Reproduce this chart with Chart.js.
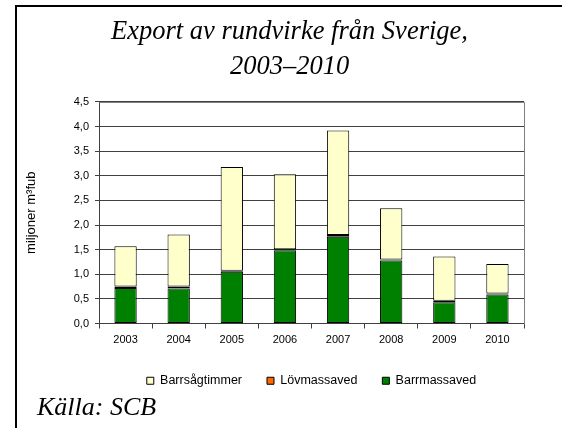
<!DOCTYPE html>
<html>
<head>
<meta charset="utf-8">
<script src="https://cdn.jsdelivr.net/npm/chart.js@4/dist/chart.umd.min.js"></script>
<style>
  html, body { margin: 0; padding: 0; background: #fff; }
  #frame {
    position: absolute; left: 15px; top: 5px; width: 545px; height: 421px;
    border-left: 2px solid #000; border-top: 2px solid #000;
  }
  #wrap { position: absolute; left: 0; top: 0; width: 545px; height: 421px; }
</style>
</head>
<body>
<div id="frame">
  <div id="wrap"><canvas id="chart" width="545" height="421"></canvas></div>
</div>
<script>
// Export av rundvirke, miljoner m3fub
const years = ['2003', '2004', '2005', '2006', '2007', '2008', '2009', '2010'];
const barrmassaved = [0.72, 0.71, 1.05, 1.49, 1.76, 1.28, 0.43, 0.59];
const lovmassaved = [0.03, 0.04, 0.02, 0.02, 0.04, 0.02, 0.03, 0.02];
const barrsagtimmer = [0.82, 1.06, 2.11, 1.52, 2.12, 1.04, 0.90, 0.60];
const yTicks = [0, 0.5, 1, 1.5, 2, 2.5, 3, 3.5, 4, 4.5];

const sansFont = "'Liberation Sans', Arial, sans-serif";
const serifFont = "'Liberation Serif', 'Times New Roman', serif";
const gridColor = '#404040';

// grey frame round the plot area + source line at the bottom
const extras = {
  id: 'extras',
  beforeDatasetsDraw(chart) {
    const { ctx, chartArea: a } = chart;
    ctx.save();
    ctx.strokeStyle = '#808080';
    ctx.lineWidth = 1;
    ctx.beginPath();
    ctx.moveTo(Math.round(a.left) + 0.5, Math.round(a.top) + 0.5);
    ctx.lineTo(Math.round(a.right) + 0.5, Math.round(a.top) + 0.5);
    ctx.lineTo(Math.round(a.right) + 0.5, Math.round(a.bottom) + 0.5);
    ctx.stroke();
    ctx.restore();
  },
  afterDraw(chart) {
    const ctx = chart.ctx;
    ctx.save();
    ctx.fillStyle = '#000';
    ctx.font = 'italic 26px ' + serifFont;
    ctx.textBaseline = 'alphabetic';
    ctx.fillText('Källa: SCB', 20, 408);
    ctx.restore();
  }
};

new Chart(document.getElementById('chart'), {
  type: 'bar',
  data: {
    labels: years,
    datasets: [
      { label: 'Barrmassaved', data: barrmassaved, backgroundColor: '#008000' },
      { label: 'Lövmassaved', data: lovmassaved, backgroundColor: '#FF6600' },
      { label: 'Barrsågtimmer', data: barrsagtimmer, backgroundColor: '#FFFFCC' }
    ].map(d => Object.assign(d, {
      borderColor: '#000', borderWidth: 1, borderSkipped: false,
      categoryPercentage: 1, barPercentage: 0.42
    }))
  },
  options: {
    responsive: false,
    animation: false,
    layout: { padding: { left: 0, right: 0, top: 0, bottom: 31 } },
    plugins: {
      title: {
        display: true,
        text: ['Export av rundvirke från Sverige,', '2003–2010'],
        color: '#000',
        font: { family: serifFont, size: 26.5, style: 'italic', weight: 'normal', lineHeight: 1.32 },
        padding: { top: 8, bottom: 17 }
      },
      legend: {
        position: 'bottom',
        fullSize: false,
        reverse: true,
        labels: {
          color: '#000',
          font: { family: sansFont, size: 12.5 },
          boxWidth: 7, boxHeight: 7,
          padding: 25,
          generateLabels(chart) {
            return chart.data.datasets.map((d, i) => ({
              text: d.label, fillStyle: d.backgroundColor, strokeStyle: '#000',
              lineWidth: 1, datasetIndex: i, hidden: false
            }));
          }
        }
      },
      tooltip: { enabled: false }
    },
    scales: {
      x: {
        stacked: true,
        grid: { display: true, drawOnChartArea: false, offset: true, tickLength: 5, color: gridColor },
        border: { display: true, color: gridColor },
        ticks: { color: '#000', font: { family: sansFont, size: 11 }, padding: 5, maxRotation: 0 },
        afterFit(s) { s.height = 26; }
      },
      y: {
        stacked: true,
        min: 0, max: 4.5,
        afterBuildTicks(s) { s.ticks = yTicks.map(v => ({ value: v })); },
        grid: { color: gridColor, tickLength: 4 },
        border: { display: true, color: gridColor },
        ticks: {
          color: '#000', font: { family: sansFont, size: 11 }, padding: 6,
          callback: v => v.toFixed(1).replace('.', ',')
        },
        title: {
          display: true, text: 'miljoner m³fub', color: '#000',
          font: { family: sansFont, size: 13 }, padding: { top: 7, bottom: 0 }
        },
        afterFit(s) { s.width = 82; }
      },
      // empty right-hand axis that only reserves the margin right of the plot
      yRight: {
        position: 'right',
        display: true,
        grid: { display: false },
        border: { display: false },
        ticks: { display: false },
        afterFit(s) { s.width = 38; }
      }
    }
  },
  plugins: [extras]
});
</script>
</body>
</html>
